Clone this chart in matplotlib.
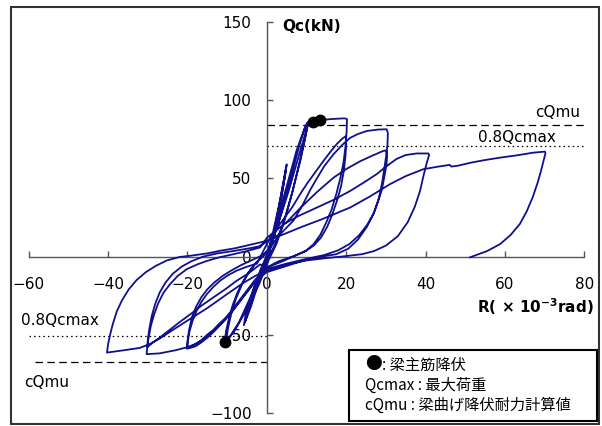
import numpy as np
import matplotlib.pyplot as plt
from matplotlib.patches import Rectangle

plt.rcParams['font.family'] = ['DejaVu Sans', 'Noto Sans CJK JP']

# hysteresis path, one list per loading phase
# small cycles (+-5)
r_small = [0, 1.5, 3, 4.2, 5, 4.6, 3.5, 2, 0.5, -1, -2.5, -4, -5.5, -5, -3.5, -1.5, 0,
           1.8, 3.5, 4.8, 4.2, 2.5, 0.5, -1.5, -3.5, -5.8, -5.2, -3, -1]
q_small = [0, 15, 32, 48, 59, 52, 35, 15, 2, -8, -20, -32, -42, -36, -22, -8, 0,
           16, 38, 56, 46, 22, 4, -10, -26, -44, -35, -18, -5]
# +-10 cycles
r_10 = [0.5, 2.5, 4.5, 6.5, 8.5, 9.8, 10.3, 9.8, 8.2, 6.3, 4.3, 2.4, 0.5,
        -2, -4, -6, -8, -9.5, -10.6, -10.3, -9.6, -8.6, -7.4, -6, -4.5, -3, -1.5, 0.5,
        2.5, 5, 7.5, 9.5, 10.5, 10, 8.5, 6.5, 4.5, 2.5, 0.5,
        -2, -4.5, -7, -9.5, -10.2, -9.8, -9, -7.8, -6.3, -4.6, -2.8, -1, 0]
q_10 = [3, 18, 36, 55, 74, 84, 86, 78, 60, 40, 22, 8, -2,
        -18, -28, -38, -47, -52, -55, -48, -40, -31, -23, -16, -10, -5, -1, 5,
        22, 45, 68, 82, 86, 80, 62, 42, 24, 10, 0,
        -14, -28, -42, -52, -53, -46, -37, -27, -18, -10, -4, 0, 2]
# +-20 cycles
r_20 = [1, 3, 5.5, 8, 9.8, 10.5, 11.6, 13.3, 16, 19.6, 20.2, 20.1, 19.8, 19.3, 18.5, 17.5, 16.3,
        15, 13.5, 11.8, 10, 7.5, 4, 0,
        -1.5, -3, -4.5, -6, -7.5, -9, -10.5, -12, -13.5, -15, -16.5, -18, -19, -20,
        -19.9, -19.5, -18.7, -17.7, -16.5, -15.1, -13.5, -11.8, -9.8, -7.6, -5, -2.5, 0.8,
        2.5, 4.5, 6.5, 8.4, 10.2, 12.2, 14.2, 16, 17.6, 19, 19.9, 20, 19.8, 19.4, 18.7, 17.7,
        16.5, 15.2, 13.6, 11.8, 9.5, 6.5, 3, 0,
        -1.5, -3, -4.5, -6, -7.5, -9, -10.5, -12, -13.5, -15, -16.5, -18, -19.3, -20.2,
        -20, -19.6, -18.9, -17.8, -16.5, -15, -13.2, -11.2, -9, -6.5, -3.5, -1, 0.5]
q_20 = [8, 22, 42, 64, 80, 86, 86.4, 87.2, 88, 88.5, 88, 80, 70, 60, 50, 40, 30,
        22, 14, 8, 4, 1, -3, -7,
        -11, -15, -20, -25, -30, -35, -39.5, -43, -47, -50, -53.5, -56, -57.5, -58.5,
        -54, -48, -41, -34.7, -29, -24, -19.5, -15.5, -12, -9, -6.5, -4.5, 12,
        18, 25, 32, 40, 47, 54, 61, 67, 72, 75.5, 77, 72, 64, 55, 45, 36,
        27, 19, 12, 7, 3, 0, -3, -7,
        -11, -16, -21, -26, -31, -36, -40.5, -44.5, -48.5, -52, -55, -57.5, -58.5, -59,
        -54, -47, -39, -32, -26, -21, -16.5, -12.5, -9, -5.5, -2, 1, 4]
# +-30 cycles
r_30 = [2, 4, 6.7, 9, 11, 12.6, 14.5, 16.8, 19, 21, 23, 25.2, 28, 30.2,
        30.5, 30.4, 30.1, 29.7, 29.1, 28.3, 27, 25.2, 23, 20.5, 17.5, 14, 10, 5, 0,
        -1.5, -3, -4.5, -6, -7.5, -9, -10.5, -12, -13.5, -15, -16.5, -18, -20, -23, -27, -30.3,
        -30.1, -29.8, -29.2, -28.4, -27.4, -26, -24.4, -22.5, -20.2, -17.5, -15.1, -12, -8.4, -5, -1.7,
        0, 2.5, 5, 8.4, 12.5, 16.8, 20, 23.5, 26.5, 29.3, 30.1,
        30.3, 30.1, 29.6, 29, 28, 26.8, 25.2, 23.2, 20.8, 18, 14.5, 10, 5, 0,
        -1.7, -4.5, -7.6, -10.5, -13.5, -16.5, -19.3, -22, -24.5, -26.8, -28.7, -30.1,
        -30, -29.6, -29, -28.1, -27, -25.5, -23.7, -21.5, -19, -16, -12.5, -8.5, -5, -2]
q_30 = [10, 16, 23, 33, 43, 50, 58, 65.5, 71.5, 76, 78.5, 80.4, 81.3, 81.5,
        79, 72, 65, 58, 48, 38, 28, 19, 11, 5, 1.5, 0, -2, -6, -10,
        -13, -16, -21, -26, -31, -36, -40, -44, -47.5, -51, -54, -56, -58, -60, -62, -62.5,
        -57, -52, -44, -37, -30, -23, -17.7, -12.5, -8.1, -5, -2.8, -0.5, 1.5, 3.5, 5.8,
        12, 17, 22, 31, 41, 50.5, 56, 61, 64.5, 67.6, 68,
        64, 58, 51, 43, 35, 27, 20, 13.5, 8, 4, 1, -1.5, -4.5, -8,
        -5, -10.5, -15.5, -21, -26.2, -31.5, -37, -42, -47, -51.5, -55, -58,
        -53, -46, -38, -30, -23, -16.5, -11, -6.5, -3, 0, 2, 3.5, 5, 6.5]
# +-40 cycle
r_40 = [3, 4.2, 8, 12.6, 17, 21, 24.5, 27.7, 30.5, 32.7, 35, 37.7, 40.7,
        40.9, 40.3, 39.5, 38.6, 37.3, 35.5, 33, 30, 27, 24, 20, 15, 10, 5, 0,
        -3, -6, -10, -15, -20, -24, -27, -29.5, -32, -36, -40.3,
        -40, -39.5, -38.8, -37.8, -36.5, -34.8, -32.8, -30.5, -28, -25.2, -22, -19.3,
        -15, -11.8, -8, -5.1, -2.5, -0.1]
q_40 = [14, 20.7, 26, 31.4, 36.5, 42, 47.5, 52.8, 58.5, 62.5, 65, 66, 66,
        65, 60, 52, 42, 32, 22, 13, 7, 3.5, 1.5, 0.3, -1, -2.5, -5, -9,
        -12.5, -17, -24, -33, -41, -47.5, -52.5, -56, -58.5, -60, -61.5,
        -56, -50, -43, -35, -28, -21, -15, -10, -6, -2.5, -0.3, 0.5,
        2, 3.7, 5.3, 7, 8.5, 10]
# final push to +70 and unloading
r_70 = [4, 8.4, 14, 21, 26, 31, 35, 39.4, 43, 46.1, 46.5, 48.2, 51.6, 55, 58.7, 63, 67.1, 70.1,
        70.2, 69.8, 69.1, 68.2, 67, 65.5, 63.8, 61.5, 58.8, 55.5, 51.2]
q_70 = [14, 18.6, 24, 31.4, 38.5, 46.3, 51.5, 55.9, 57.5, 58.7, 57.6, 58.2, 60.2, 61.8, 63.3, 64.8, 66.5, 67.2,
        66, 62, 55, 47, 38, 29, 21, 14, 8, 3.5, -0.5]

# beam bar yield points
yield_r = [11.6, 13.3, -10.6]
yield_q = [86.4, 87.2, -55.0]

cqmu_pos, cqmu_neg = 84.0, -67.8
qc08_pos, qc08_neg = 70.6, -50.7

R = np.concatenate([r_small, r_10, r_20, r_30, r_40, r_70])
Q = np.concatenate([q_small, q_10, q_20, q_30, q_40, q_70])

fig = plt.figure(figsize=(6.02, 4.26), dpi=100)
ax = fig.add_axes([0.0478, 0.0312, 0.9228, 0.9165])

ax.plot(R, Q, color='#10108c', lw=1.3, zorder=3)
ax.plot(yield_r, yield_q, 'o', color='black', ms=7.5, zorder=4)

# reference levels
ax.plot([0, 80], [cqmu_pos, cqmu_pos], color='black', lw=0.9, dashes=(6, 3.5), zorder=2)
ax.plot([0, 80], [qc08_pos, qc08_pos], color='black', lw=0.9, dashes=(1.2, 2.5), zorder=2)
ax.plot([-60, 0], [qc08_neg, qc08_neg], color='black', lw=0.9, dashes=(1.2, 2.5), zorder=2)
ax.plot([-58.5, 0], [cqmu_neg, cqmu_neg], color='black', lw=0.9, dashes=(6, 3.5), zorder=2)

ax.text(79, 92, 'cQmu', ha='right', va='center', fontsize=11)
ax.text(72.9, 76, '0.8Qcmax', ha='right', va='center', fontsize=11)
ax.text(-61.9, -41.2, '0.8Qcmax', ha='left', va='center', fontsize=11, clip_on=False)
ax.text(-61.2, -80.6, 'cQmu', ha='left', va='center', fontsize=11, clip_on=False)

ax.set_xlim(-60, 80)
ax.set_ylim(-100, 150)
ax.set_xticks(np.arange(-60, 81, 20))
ax.set_yticks(np.arange(-100, 151, 50))
ax.spines['left'].set_position(('data', 0))
ax.spines['bottom'].set_position(('data', 0))
ax.spines['top'].set_visible(False)
ax.spines['right'].set_visible(False)
for s in ('left', 'bottom'):
    ax.spines[s].set_color('#555555')
    ax.spines[s].set_linewidth(1.0)
ax.tick_params(axis='x', direction='in', length=4, width=1, color='#555555', pad=15, labelsize=11)
ax.tick_params(axis='y', direction='in', length=4, width=1, color='#555555', pad=11, labelsize=11)
ax.patch.set_visible(False)

ax.text(3.8, 147.6, 'Qc(kN)', ha='left', va='center', fontsize=11, fontweight='bold')
ax.text(82.4, -32.2, r'R( × 10$^{\mathbf{-3}}$rad)', ha='right', va='center', fontsize=11,
        fontweight='bold', clip_on=False)

# outer frame
fig.patches.append(Rectangle((0.018, 0.004), 0.977, 0.98, transform=fig.transFigure,
                             fill=False, edgecolor='#333333', lw=1.5))

# legend box
fig.patches.append(Rectangle((0.5797, 0.0117), 0.412, 0.1667, transform=fig.transFigure,
                             facecolor='white', edgecolor='black', lw=1.5, zorder=5))
jp = ['Noto Sans CJK JP', 'DejaVu Sans']
fig.text(0.606, 0.1432, '●', ha='left', va='center', fontsize=12, family=jp, zorder=6)
fig.text(0.634, 0.1432, ': 梁主筋降伏', ha='left', va='center', fontsize=11, family=jp, zorder=6)
fig.text(0.606, 0.0962, 'Qcmax : 最大荷重', ha='left', va='center', fontsize=11, family=jp, zorder=6)
fig.text(0.606, 0.0493, 'cQmu : 梁曲げ降伏耐力計算値', ha='left', va='center', fontsize=11, family=jp, zorder=6)

fig.savefig('out.png', dpi=100)
